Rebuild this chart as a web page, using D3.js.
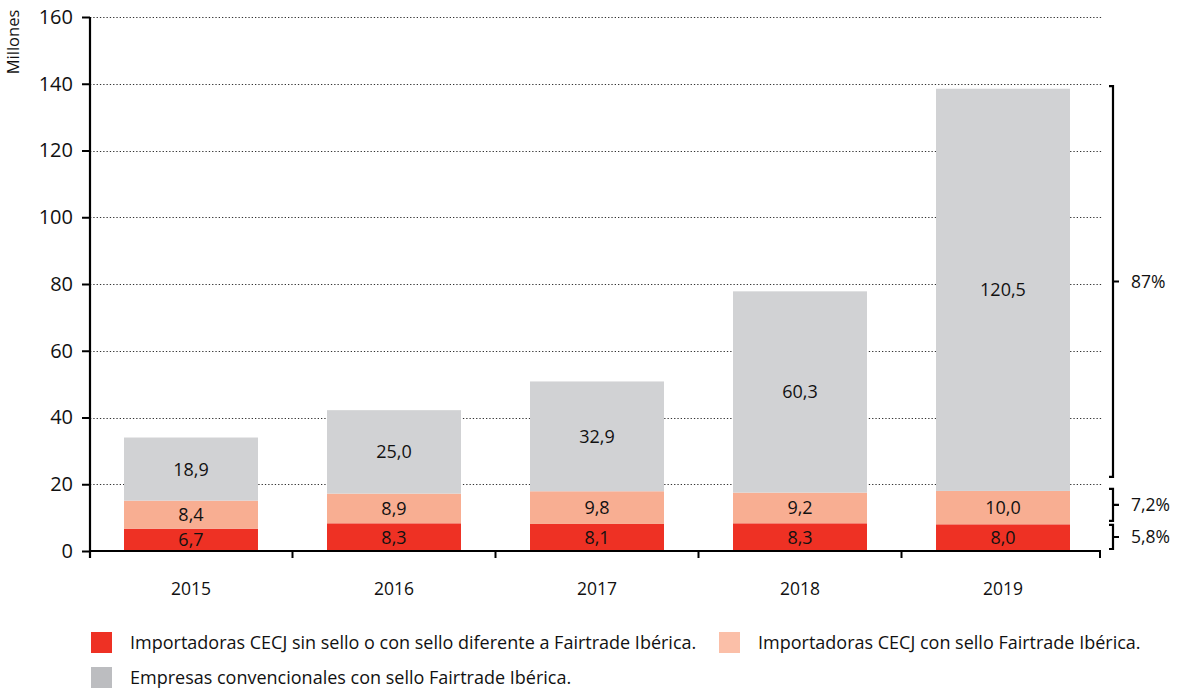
<!DOCTYPE html>
<html>
<head>
<meta charset="utf-8">
<script src="https://cdn.jsdelivr.net/npm/d3@7"></script>
<style>
  body { margin: 0; background: #fff; }
  svg { display: block; font-family: "Open Sans", sans-serif; }
</style>
</head>
<body>
<div id="chart"></div>
<script>
// Data
const years = ['2015', '2016', '2017', '2018', '2019'];
const sinSello = [6.7, 8.3, 8.1, 8.3, 8.0];
const conSello = [8.4, 8.9, 9.8, 9.2, 10.0];
const convencionales = [18.9, 25.0, 32.9, 60.3, 120.5];
const seriesNames = [
  'Importadoras CECJ sin sello o con sello diferente a Fairtrade Ibérica.',
  'Importadoras CECJ con sello Fairtrade Ibérica.',
  'Empresas convencionales con sello Fairtrade Ibérica.'
];
const yTicks = [0, 20, 40, 60, 80, 100, 120, 140, 160];
// share brackets for 2019 (value extents in millones + label)
const shareLabels = ['5,8%', '7,2%', '87%'];
const shareFrom = [0.6, 9.0, 22.2];
const shareTo = [7.8, 18.6, 139.3];

const W = 1180, H = 689;
const MARGIN = { top: 17, right: 76, bottom: 138, left: 90 };
const BAR_COLORS = ['#EE3124', '#F8AE92', '#D1D2D4'];
const LEGEND_COLORS = ['#EE3124', '#FBBFA8', '#BCBDC0'];
const AXIS_END = 1101;

const svg = d3.select('#chart').append('svg')
  .attr('width', W).attr('height', H);

const x = d3.scaleBand()
  .domain(years)
  .range([MARGIN.left, W - MARGIN.right])
  .paddingInner(0.34)
  .paddingOuter(0.1675);
const y = d3.scaleLinear()
  .domain([0, 160])
  .range([H - MARGIN.bottom, MARGIN.top]);

// dotted gridlines
svg.append('g')
  .selectAll('line')
  .data(yTicks.filter(d => d > 0))
  .join('line')
  .attr('x1', MARGIN.left).attr('x2', 1103)
  .attr('y1', d => Math.round(y(d)) + 0.5).attr('y2', d => Math.round(y(d)) + 0.5)
  .attr('stroke', '#333')
  .attr('stroke-width', 1.2)
  .attr('stroke-dasharray', '1.3,2');

// stacked bars
const table = years.map((yr, i) => ({ year: yr, vals: [sinSello[i], conSello[i], convencionales[i]] }));
const stack = d3.stack().keys([0, 1, 2]).value((d, k) => d.vals[k]);
const stacked = stack(table);

const fmt = v => v.toFixed(1).replace('.', ',');

stacked.forEach((layer, k) => {
  const g = svg.append('g');
  g.selectAll('rect')
    .data(layer)
    .join('rect')
    .attr('x', d => x(d.data.year))
    .attr('width', x.bandwidth())
    .attr('y', d => y(d[1]))
    .attr('height', d => y(d[0]) - y(d[1]))
    .attr('fill', BAR_COLORS[k]);
  g.selectAll('text')
    .data(layer)
    .join('text')
    .attr('x', d => x(d.data.year) + x.bandwidth() / 2)
    .attr('y', d => (y(d[0]) + y(d[1])) / 2)
    .attr('dy', '0.36em')
    .attr('text-anchor', 'middle')
    .attr('font-size', 18)
    .attr('fill', '#111')
    .text(d => fmt(d[1] - d[0]));
});

// y axis
const yAxis = svg.append('g')
  .attr('transform', `translate(${MARGIN.left},0)`)
  .call(d3.axisLeft(y).tickValues(yTicks).tickSize(8).tickPadding(9));
yAxis.select('.domain').attr('stroke', '#000').attr('stroke-width', 2.2)
  .attr('d', `M0,${MARGIN.top}V${H - MARGIN.bottom + 7}`);
yAxis.selectAll('.tick line').attr('stroke', '#000').attr('stroke-width', 2);
yAxis.selectAll('.tick text').attr('font-size', 20).attr('fill', '#111')
  .attr('font-family', '"Open Sans", sans-serif');

svg.append('text')
  .attr('transform', `translate(19,42) rotate(-90)`)
  .attr('text-anchor', 'middle')
  .attr('font-size', 16.5)
  .attr('fill', '#111')
  .text('Millones');

// x axis: ticks between bars and at the right end
const gap = x.step() - x.bandwidth();
const boundaries = years.slice(1).map(d => x(d) - gap / 2).concat([AXIS_END - 1]);
const xg = svg.append('g');
xg.append('line')
  .attr('x1', MARGIN.left).attr('x2', AXIS_END)
  .attr('y1', y(0)).attr('y2', y(0))
  .attr('stroke', '#000').attr('stroke-width', 2.2);
xg.selectAll('.xtick')
  .data(boundaries)
  .join('line')
  .attr('x1', d => d).attr('x2', d => d)
  .attr('y1', y(0)).attr('y2', y(0) + 7)
  .attr('stroke', '#000').attr('stroke-width', 2);
xg.selectAll('.xlabel')
  .data(years)
  .join('text')
  .attr('x', d => x(d) + x.bandwidth() / 2)
  .attr('y', 595)
  .attr('text-anchor', 'middle')
  .attr('font-size', 17.5)
  .attr('fill', '#111')
  .text(d => d);

// share brackets
const bx = 1113;
const brackets = svg.append('g');
shareLabels.forEach((lab, i) => {
  const y0 = y(shareTo[i]), y1 = y(shareFrom[i]);
  const mid = (y0 + y1) / 2;
  brackets.append('path')
    .attr('d', `M${bx - 4},${y0}H${bx}V${y1}H${bx - 4}M${bx},${mid}H${bx + 6}`)
    .attr('fill', 'none')
    .attr('stroke', '#000')
    .attr('stroke-width', 2.2);
  brackets.append('text')
    .attr('x', 1131)
    .attr('y', mid)
    .attr('dy', '0.36em')
    .attr('font-size', 17.5)
    .attr('fill', '#111')
    .text(lab);
});

// legend
const legendItems = [
  { name: seriesNames[0], color: LEGEND_COLORS[0], lx: 91, ly: 632 },
  { name: seriesNames[1], color: LEGEND_COLORS[1], lx: 719, ly: 632 },
  { name: seriesNames[2], color: LEGEND_COLORS[2], lx: 91, ly: 667 }
];
const lg = svg.append('g');
legendItems.forEach(it => {
  lg.append('rect')
    .attr('x', it.lx).attr('y', it.ly)
    .attr('width', 21).attr('height', 21)
    .attr('fill', it.color);
  lg.append('text')
    .attr('x', it.lx + 39).attr('y', it.ly + 11)
    .attr('dy', '0.36em')
    .attr('font-size', 18)
    .attr('fill', '#111')
    .text(it.name);
});
</script>
</body>
</html>
